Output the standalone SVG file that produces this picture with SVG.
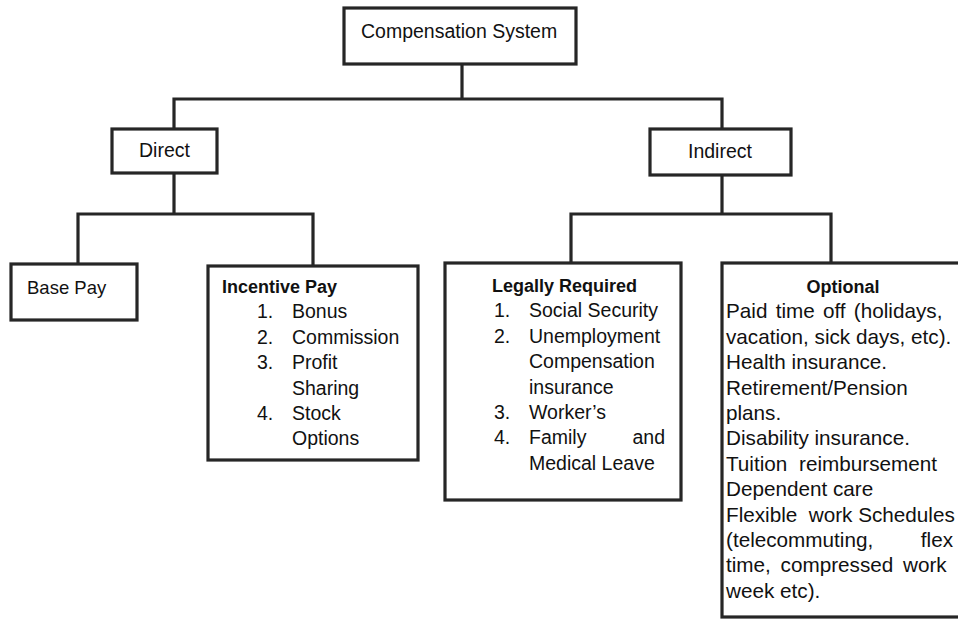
<svg xmlns="http://www.w3.org/2000/svg" width="958" height="622" viewBox="0 0 958 622">
<style>
  .box { fill: #ffffff; stroke: #262626; stroke-width: 3.2; }
  .conn { fill: none; stroke: #262626; stroke-width: 3.2; stroke-linecap: square; }
  text { font-family: "Liberation Sans", Arial, sans-serif; font-size: 19.5px; fill: #111111; }
  .b { font-weight: bold; font-size: 18px; }
  .opt { font-size: 20.7px; }
</style>
<rect width="958" height="622" fill="#ffffff"/>
<g id="connectors">
  <path class="conn" d="M462 64 V99 M174 99 H722 M174 99 V129 M722 99 V129"/>
  <path class="conn" d="M174 173 V214 M78 214 H313 M78 214 V264 M313 214 V266"/>
  <path class="conn" d="M722 175 V214 M571 214 H831 M571 214 V263 M831 214 V263"/>
</g>
<g id="compensation-system">
  <rect class="box" x="344" y="8" width="232" height="56"/>
  <text x="361" y="38">Compensation System</text>
</g>
<g id="direct">
  <rect class="box" x="112" y="129" width="105" height="44"/>
  <text x="139" y="157">Direct</text>
</g>
<g id="indirect">
  <rect class="box" x="650" y="129" width="141" height="46"/>
  <text x="688" y="158">Indirect</text>
</g>
<g id="base-pay">
  <rect class="box" x="11" y="264" width="126" height="56"/>
  <text x="27" y="294" style="font-size:18.5px">Base Pay</text>
</g>
<g id="incentive-pay">
  <rect class="box" x="208" y="266" width="210" height="194"/>
  <text class="b" x="222" y="293">Incentive Pay</text>
  <text x="257" y="318.4">1.</text><text x="292" y="318.4">Bonus</text>
  <text x="257" y="343.8">2.</text><text x="292" y="343.8">Commission</text>
  <text x="257" y="369.2">3.</text><text x="292" y="369.2">Profit</text>
  <text x="292" y="394.6">Sharing</text>
  <text x="257" y="420">4.</text><text x="292" y="420">Stock</text>
  <text x="292" y="445.4">Options</text>
</g>
<g id="legally-required">
  <rect class="box" x="445" y="263" width="236" height="237"/>
  <text class="b" x="492" y="292">Legally Required</text>
  <text x="494" y="317.4">1.</text><text x="529" y="317.4">Social Security</text>
  <text x="494" y="342.8">2.</text><text x="529" y="342.8">Unemployment</text>
  <text x="529" y="368.2">Compensation</text>
  <text x="529" y="393.6">insurance</text>
  <text x="494" y="419">3.</text><text x="529" y="419">Worker’s</text>
  <text x="494" y="444.4">4.</text><text x="529" y="444.4">Family</text><text x="665" y="444.4" text-anchor="end">and</text>
  <text x="529" y="469.8">Medical Leave</text>
</g>
<g id="optional">
  <rect class="box" x="722" y="263" width="245" height="354"/>
  <text class="b" x="843" y="293" text-anchor="middle">Optional</text>
  <text class="opt" x="726" y="318.4" word-spacing="2.5">Paid time off (holidays,</text>
  <text class="opt" x="726" y="343.8">vacation, sick days, etc).</text>
  <text class="opt" x="726" y="369.2">Health insurance.</text>
  <text class="opt" x="726" y="394.6">Retirement/Pension</text>
  <text class="opt" x="726" y="420">plans.</text>
  <text class="opt" x="726" y="445.4">Disability insurance.</text>
  <text class="opt" x="726" y="470.8" word-spacing="6">Tuition reimbursement</text>
  <text class="opt" x="726" y="496.2">Dependent care</text>
  <text class="opt" x="726" y="521.6" xml:space="preserve">Flexible  work Schedules</text>
  <text class="opt" x="726" y="547">(telecommuting,</text><text class="opt" x="953" y="547" text-anchor="end">flex</text>
  <text class="opt" x="726" y="572.4" word-spacing="4">time, compressed work</text>
  <text class="opt" x="726" y="597.8">week etc).</text>
</g>
</svg>
